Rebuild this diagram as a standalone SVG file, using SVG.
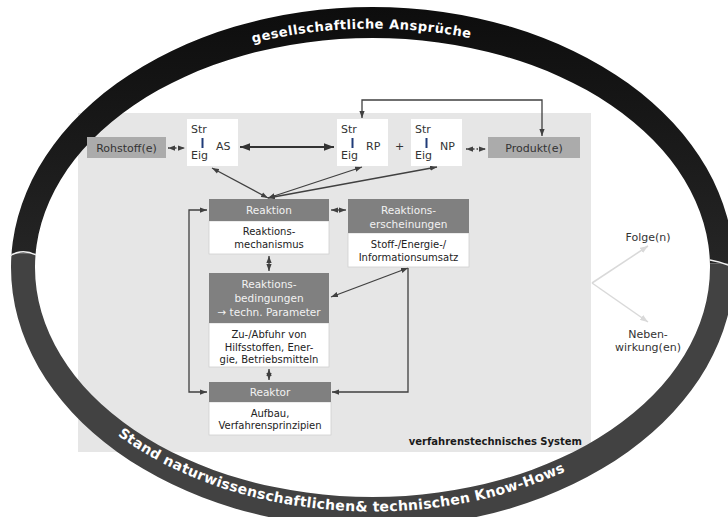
<svg xmlns="http://www.w3.org/2000/svg" width="728" height="517" viewBox="0 0 728 517">
<style>
text{font-family:"DejaVu Sans",Verdana,sans-serif}
.lbl{font-size:11px;fill:#333}
.h{font-size:10.5px;fill:#f2f2f2;text-anchor:middle}
.b{font-size:10px;fill:#222;text-anchor:middle}
.hd{fill:#808080}
.bd{fill:#fff;stroke:#d0d0d0;stroke-width:0.8}
.src{fill:#ababab}
.ln{fill:none;stroke:#404040;stroke-width:1.3}
.dl{fill:none;stroke:#404040;stroke-width:1.3;stroke-dasharray:1.5 2}
.bar{stroke:#1f3b78;stroke-width:2}
.ring{font-weight:bold;fill:#fff}
</style>
<defs>
<marker id="ah" viewBox="0 0 8 6" refX="8" refY="3" markerWidth="7" markerHeight="5.5" markerUnits="userSpaceOnUse" orient="auto-start-reverse"><path d="M0,0 L8,3 L0,6 z" fill="#404040"/></marker>
<marker id="ahb" viewBox="0 0 8 6" refX="8" refY="3" markerWidth="10" markerHeight="7.5" markerUnits="userSpaceOnUse" orient="auto-start-reverse"><path d="M0,0 L8,3 L0,6 z" fill="#333"/></marker>
<marker id="ahl" viewBox="0 0 8 6" refX="8" refY="3" markerWidth="8" markerHeight="6" markerUnits="userSpaceOnUse" orient="auto"><path d="M0,0 L8,3 L0,6 z" fill="#d9d9d9"/></marker>
<linearGradient id="gtop" x1="0" y1="0" x2="0" y2="1"><stop offset="0" stop-color="#0d0d0d"/><stop offset="0.35" stop-color="#1e1e1e"/><stop offset="1" stop-color="#404040"/></linearGradient>
<clipPath id="cTop"><polygon points="0,0 740,0 740,264 0,253"/></clipPath>
<clipPath id="cBot"><polygon points="0,253 740,264 740,540 0,540"/></clipPath>
<path id="ringShape" fill-rule="evenodd" d="M11,267.5 A361.5,260.5 0 1 0 734,267.5 A361.5,260.5 0 1 0 11,267.5 Z M35,267.5 A337.5,229.5 0 1 1 710,267.5 A337.5,229.5 0 1 1 35,267.5 Z"/>
<path id="pTop" d="M25.5,267.5 A347,239 0 0 1 719.5,267.5"/>
<path id="pBot" d="M21.5,267.5 A351,244 0 0 0 723.5,267.5"/>
</defs>

<rect id="system" x="78" y="113" width="513" height="339" fill="#e6e6e6"/>

<g id="ring">
<use href="#ringShape" fill="url(#gtop)" clip-path="url(#cTop)"/>
<use href="#ringShape" fill="#424242" clip-path="url(#cBot)"/>
<path d="M10,256 Q22,248 36,255" fill="none" stroke="#f2f2f2" stroke-width="1.3"/>
<path d="M710,260 Q722,262 735,268" fill="none" stroke="#f2f2f2" stroke-width="1.3"/>
<text class="ring" font-size="13" letter-spacing="0.5"><textPath href="#pTop" startOffset="453" text-anchor="middle">gesellschaftliche Ansprüche</textPath></text>
<text class="ring" font-size="14" letter-spacing="0.3"><textPath href="#pBot" startOffset="435" text-anchor="middle">Stand naturwissenschaftlichen&amp; technischen Know-Hows</textPath></text>
</g>

<g id="connectors">
<line class="dl" x1="168" y1="148" x2="185" y2="148" marker-start="url(#ah)" marker-end="url(#ah)"/>
<line class="dl" x1="466" y1="149" x2="486" y2="149" marker-start="url(#ah)" marker-end="url(#ah)"/>
<line fill="none" stroke="#333" stroke-width="2.2" x1="240" y1="147" x2="334" y2="147" marker-start="url(#ahb)" marker-end="url(#ahb)"/>
<path class="ln" d="M362,118 V100 H542 V136" marker-start="url(#ah)" marker-end="url(#ah)"/>
<line class="ln" x1="268" y1="198" x2="212" y2="168" marker-start="url(#ah)" marker-end="url(#ah)"/>
<line class="ln" x1="268" y1="198" x2="362" y2="167" marker-start="url(#ah)" marker-end="url(#ah)"/>
<line class="ln" x1="268" y1="198" x2="437" y2="167" marker-start="url(#ah)" marker-end="url(#ah)"/>
<line class="ln" x1="331" y1="210" x2="346" y2="210" marker-start="url(#ah)" marker-end="url(#ah)"/>
<line class="ln" x1="269" y1="256" x2="269" y2="271" marker-start="url(#ah)" marker-end="url(#ah)"/>
<line class="ln" x1="269" y1="369" x2="269" y2="380" marker-start="url(#ah)" marker-end="url(#ah)"/>
<line class="ln" x1="331" y1="297" x2="408" y2="268" marker-start="url(#ah)" marker-end="url(#ah)"/>
<path class="ln" d="M408,268 V392 H332" marker-end="url(#ah)"/>
<path class="ln" d="M207,210 H189 V392 H207" marker-start="url(#ah)" marker-end="url(#ah)"/>
<line fill="none" stroke="#d9d9d9" stroke-width="1.5" x1="592" y1="283" x2="648" y2="246" marker-end="url(#ahl)"/>
<line fill="none" stroke="#d9d9d9" stroke-width="1.5" x1="592" y1="283" x2="648" y2="322" marker-end="url(#ahl)"/>
</g>

<g id="rohstoff">
<rect class="src" x="87" y="137" width="79" height="21"/>
<text class="lbl" x="126.5" y="151.5" text-anchor="middle">Rohstoff(e)</text>
</g>

<g id="as">
<rect fill="#fff" x="187" y="119" width="51" height="47"/>
<text class="lbl" x="191" y="133">Str</text>
<line class="bar" x1="202.5" y1="138" x2="202.5" y2="148"/>
<text class="lbl" x="191" y="159">Eig</text>
<text class="lbl" x="216" y="150">AS</text>
</g>

<g id="rp">
<rect fill="#fff" x="337" y="119" width="51" height="47"/>
<text class="lbl" x="341" y="133">Str</text>
<line class="bar" x1="352.5" y1="138" x2="352.5" y2="148"/>
<text class="lbl" x="341" y="159">Eig</text>
<text class="lbl" x="366" y="150">RP</text>
</g>

<text id="plus" class="lbl" x="399.5" y="150" text-anchor="middle">+</text>

<g id="np">
<rect fill="#fff" x="411" y="119" width="51" height="47"/>
<text class="lbl" x="415" y="133">Str</text>
<line class="bar" x1="426.5" y1="138" x2="426.5" y2="148"/>
<text class="lbl" x="415" y="159">Eig</text>
<text class="lbl" x="440" y="150">NP</text>
</g>

<g id="produkt">
<rect class="src" x="488" y="137" width="92" height="21"/>
<text class="lbl" x="534" y="151.5" text-anchor="middle">Produkt(e)</text>
</g>

<g id="reaktion">
<rect class="bd" x="209" y="221" width="120" height="33"/>
<rect class="hd" x="209" y="199" width="120" height="22"/>
<text class="h" x="269" y="214">Reaktion</text>
<text class="b" x="269" y="235">Reaktions-</text>
<text class="b" x="269" y="248">mechanismus</text>
</g>

<g id="erscheinungen">
<rect class="bd" x="348" y="233" width="121" height="34"/>
<rect class="hd" x="348" y="199" width="121" height="34"/>
<text class="h" x="408.5" y="214">Reaktions-</text>
<text class="h" x="408.5" y="228">erscheinungen</text>
<text class="b" x="408.5" y="248">Stoff-/Energie-/</text>
<text class="b" x="408.5" y="261">Informationsumsatz</text>
</g>

<g id="bedingungen">
<rect class="bd" x="209" y="323" width="120" height="44"/>
<rect class="hd" x="209" y="273" width="120" height="50"/>
<text class="h" x="269" y="288">Reaktions-</text>
<text class="h" x="269" y="302">bedingungen</text>
<text class="h" x="269" y="316">→ techn. Parameter</text>
<text class="b" x="269" y="338">Zu-/Abfuhr von</text>
<text class="b" x="269" y="350.5">Hilfsstoffen, Ener-</text>
<text class="b" x="269" y="363">gie, Betriebsmitteln</text>
</g>

<g id="reaktor">
<rect class="bd" x="209" y="402" width="122" height="33"/>
<rect class="hd" x="209" y="382" width="122" height="20"/>
<text class="h" x="270" y="396">Reaktor</text>
<text class="b" x="270" y="417">Aufbau,</text>
<text class="b" x="270" y="429">Verfahrensprinzipien</text>
</g>

<text id="systemlabel" x="582" y="445" font-size="10" font-weight="bold" fill="#1a1a1a" text-anchor="end">verfahrenstechnisches System</text>

<g id="folgen">
<text class="lbl" x="648" y="241" text-anchor="middle">Folge(n)</text>
</g>
<g id="nebenwirkungen">
<text class="lbl" x="648" y="338" text-anchor="middle">Neben-</text>
<text class="lbl" x="648" y="351" text-anchor="middle">wirkung(en)</text>
</g>
</svg>
